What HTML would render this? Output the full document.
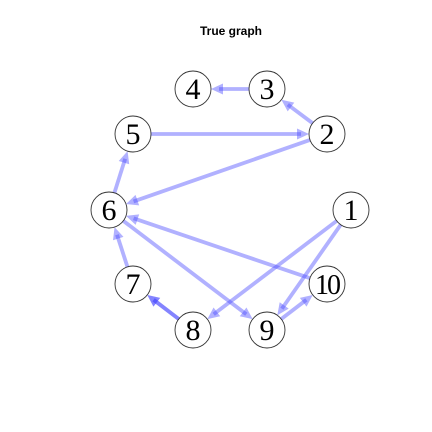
<!DOCTYPE html>
<html><head><meta charset="utf-8"><style>
html,body{margin:0;padding:0;background:#fff;width:432px;height:432px;overflow:hidden}
</style></head><body>
<svg id="g" width="432" height="432" xmlns="http://www.w3.org/2000/svg">
<text x="231" y="35" text-anchor="middle" font-family="Liberation Sans, sans-serif" font-weight="bold" font-size="12">True graph</text>
<g id="edges"></g>
<g id="nodes"></g>
</svg>
<script>
const nodeLabels = ["1","2","3","4","5","6","7","8","9","10"];
const nodeX = [351,327,267,193,133,109,133,193,267,327];
const nodeY = [210,134,89,89,134,210,284,330,330,284];
const edgeFrom = [3,2,5,2,6,10,7,6,1,1,9,8,8];
const edgeTo   = [4,3,2,6,5,6,6,9,8,9,10,7,7];
const NS="http://www.w3.org/2000/svg", R=18;
const eg=document.getElementById('edges'), ng=document.getElementById('nodes');
for(let i=0;i<edgeFrom.length;i++){
  const a=edgeFrom[i]-1,b=edgeTo[i]-1;
  const x1=nodeX[a],y1=nodeY[a],x2=nodeX[b],y2=nodeY[b];
  const dx=x2-x1,dy=y2-y1,L=Math.hypot(dx,dy),ux=dx/L,uy=dy/L;
  const sx=x1+ux*R,sy=y1+uy*R,ex=x2-ux*R,ey=y2-uy*R;
  const g=document.createElementNS(NS,'g');
  
  
  const l=document.createElementNS(NS,'line');
  l.setAttribute('x1',sx);l.setAttribute('y1',sy);l.setAttribute('x2',ex-ux*8);l.setAttribute('y2',ey-uy*8);
  l.setAttribute('stroke','rgba(70,70,255,0.42)');l.setAttribute('stroke-width','3.8');
  g.appendChild(l);
  const px=-uy,py=ux,hl=12,hw=5.5;
  const p=document.createElementNS(NS,'polygon');
  p.setAttribute('points',`${ex},${ey} ${ex-ux*hl+px*hw},${ey-uy*hl+py*hw} ${ex-ux*hl-px*hw},${ey-uy*hl-py*hw}`);
  p.setAttribute('fill','rgba(70,70,255,0.42)');
  g.appendChild(p);
  eg.appendChild(g);
}
for(let i=0;i<nodeLabels.length;i++){
  const g=document.createElementNS(NS,'g');
  
  
  const c=document.createElementNS(NS,'circle');
  c.setAttribute('cx',nodeX[i]);c.setAttribute('cy',nodeY[i]);c.setAttribute('r',R);
  c.setAttribute('fill','#fff');c.setAttribute('stroke','#333');c.setAttribute('stroke-width','0.9');
  g.appendChild(c);
  const t=document.createElementNS(NS,'text');
  t.setAttribute('x',nodeX[i]);t.setAttribute('y',nodeY[i]+10);
  t.setAttribute('text-anchor','middle');t.setAttribute('font-family','Liberation Serif, serif');
  t.setAttribute('font-size',nodeLabels[i].length>1?'28':'30');
  if(nodeLabels[i].length>1) t.setAttribute('letter-spacing','-2');
  t.textContent=nodeLabels[i];
  g.appendChild(t);
  ng.appendChild(g);
}
</script>
</body></html>
